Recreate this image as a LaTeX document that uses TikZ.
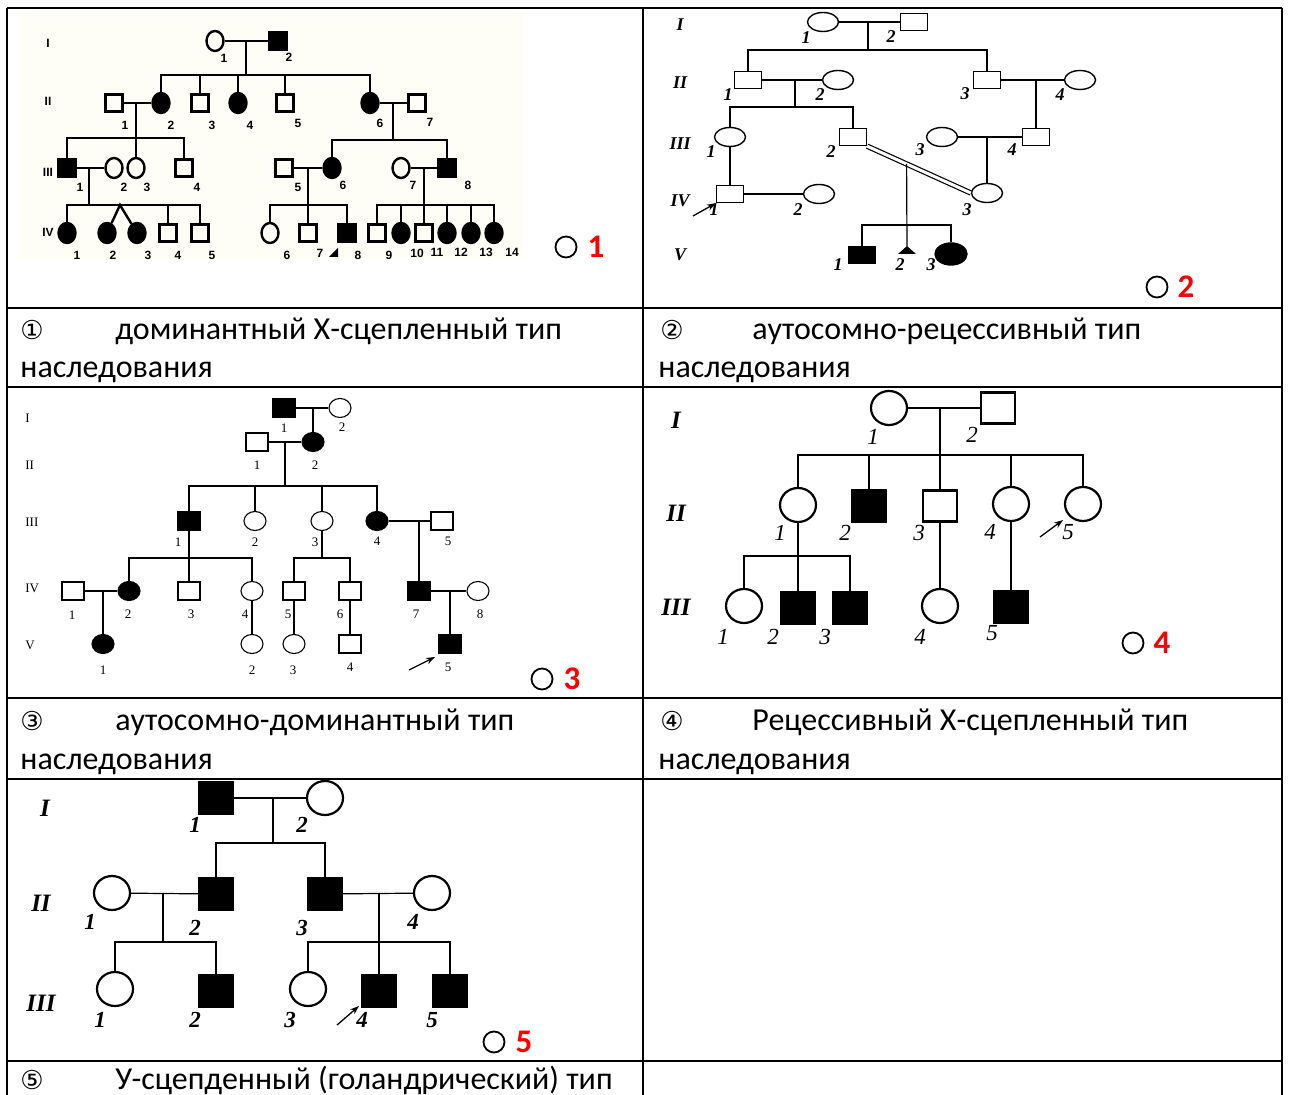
\documentclass[tikz,border=0pt]{standalone}
\usepackage{fontspec}
\setmainfont{Carlito}
\newfontfamily\symb{DejaVu Sans}
\newfontfamily\pedserif{Liberation Serif}
\newfontfamily\pedsans{Liberation Sans}
\usepackage{tikz}
\usetikzlibrary{
    arrows.meta,
    shapes.geometric,
    calc
}
\usepackage{xcolor}
\definecolor{cream}{RGB}{255,254,246}
\definecolor{tagred}{RGB}{255,0,0}

\begin{document}
\begin{tikzpicture}[
    x=0.5pt, y=-0.5pt,
    grid/.style={line width=1.1pt},
    txt/.style={inner sep=0pt, anchor=base west, font=\fontsize{16}{19}\selectfont},
    cnum/.style={inner sep=0pt, anchor=base west, font=\symb\fontsize{13}{15}\selectfont},
    tag/.style={circle, draw, line width=0.9pt, minimum size=10.5pt, inner sep=0pt},
    tagnum/.style={inner sep=0pt, text=tagred, font=\bfseries\fontsize{16.5}{18}\selectfont},
    aff/.style={fill=black},
    prob/.style={-{Stealth[length=4.5pt, width=3.2pt]}, line width=0.65pt},
    % pedigree 1
    ma/.style={rectangle, draw, line width=1.2pt, minimum size=8.5pt, inner sep=0pt},
    fa/.style={ellipse, draw, line width=1.2pt, minimum width=8.5pt, minimum height=10pt, inner sep=0pt},
    la/.style={inner sep=0pt, font=\pedsans\bfseries\fontsize{6}{7}\selectfont},
    % pedigree 2
    mb/.style={rectangle, draw, line width=0.7pt, minimum width=13.5pt, minimum height=8.5pt, inner sep=0pt},
    fb/.style={ellipse, draw, line width=0.7pt, minimum width=15.5pt, minimum height=9.5pt, inner sep=0pt},
    lb/.style={inner sep=0pt, font=\pedserif\bfseries\itshape\fontsize{9}{10}\selectfont},
    % pedigree 3
    mc/.style={rectangle, draw, line width=0.55pt, minimum width=11pt, minimum height=9pt, inner sep=0pt},
    fc/.style={ellipse, draw, line width=0.55pt, minimum width=11pt, minimum height=9.5pt, inner sep=0pt},
    lc/.style={inner sep=0pt, font=\pedserif\fontsize{6.5}{7}\selectfont},
    % pedigrees 4 and 5
    md/.style={rectangle, draw, line width=1.1pt, minimum width=17pt, minimum height=15.5pt, inner sep=0pt},
    fd/.style={ellipse, draw, line width=1.1pt, minimum width=18pt, minimum height=17pt, inner sep=0pt},
    ld/.style={inner sep=0pt, font=\pedserif\itshape\fontsize{11.5}{12}\selectfont},
    le/.style={inner sep=0pt, font=\pedserif\bfseries\itshape\fontsize{11.5}{12}\selectfont},
    gd/.style={inner sep=0pt, font=\pedserif\bfseries\itshape\fontsize{12.5}{13}\selectfont}
]
\useasboundingbox (0,0) rectangle (1289,1095);

% Table grid
\foreach \x in {7,643,1282} \draw[grid] (\x,8) -- (\x,1095);
\foreach \y in {8,308,387,698,779,1061} \draw[grid] (7,\y) -- (1282,\y);

% Pedigree 1
\fill[cream] (20,13) rectangle (523,258);
\node[la] (A-gI)   at (48,43)  {I};
\node[la] (A-gII)  at (48,101) {II};
\node[la] (A-gIII) at (48,172) {III};
\node[la] (A-gIV)  at (48,232) {IV};

\node[fa] (A-I1) at (215,41) {};
\node[ma, aff] (A-I2) at (278,41) {};

\node[ma] (A-II1) at (114,103) {};
\node[fa, aff] (A-II2) at (161,103) {};
\node[ma] (A-II3) at (200,103) {};
\node[fa, aff] (A-II4) at (238,103) {};
\node[ma] (A-II5) at (285,103) {};
\node[fa, aff] (A-II6) at (370,103) {};
\node[ma] (A-II7) at (417,103) {};

\node[ma, aff] (A-III1) at (67,168) {};
\node[fa] (A-III2) at (114,168) {};
\node[fa] (A-III3) at (136,168) {};
\node[ma] (A-III4) at (184,168) {};
\node[ma] (A-III5) at (284,168) {};
\node[fa, aff] (A-III6) at (332,168) {};
\node[fa] (A-III7) at (401,168) {};
\node[ma, aff] (A-III8) at (447,168) {};

\node[fa, aff] (A-IV1) at (67,233) {};
\node[fa, aff] (A-IV2) at (107,233) {};
\node[fa, aff] (A-IV3) at (137,233) {};
\node[ma] (A-IV4) at (168,233) {};
\node[ma] (A-IV5) at (200,233) {};
\node[fa] (A-IV6) at (270,233) {};
\node[ma] (A-IV7) at (308,233) {};
\node[ma, aff] (A-IV8) at (347,233) {};
\node[ma] (A-IV9) at (377,233) {};
\node[fa, aff] (A-IV10) at (401,233) {};
\node[ma] (A-IV11) at (424,233) {};
\node[fa, aff] (A-IV12) at (447,233) {};
\node[fa, aff] (A-IV13) at (471,233) {};
\node[fa, aff] (A-IV14) at (494,233) {};

\foreach \g/\n/\x/\y in {I/1/224/58, I/2/289/57, II/1/125/125, II/2/171/125,
    II/3/212/125, II/4/250/125, II/5/298/123, II/6/380/123, II/7/430/122,
    III/1/80/187, III/2/124/187, III/3/147/187, III/4/197/187, III/5/298/187,
    III/6/343/185, III/7/413/185, III/8/468/185, IV/1/77/255, IV/2/113/255,
    IV/3/148/255, IV/4/178/255, IV/5/212/255, IV/6/287/255, IV/7/320/253,
    IV/8/358/255, IV/9/389/255, IV/10/417/253, IV/11/437/252, IV/12/461/252,
    IV/13/486/252, IV/14/512/252}
    \node[la] (A-n\g-\n) at (\x,\y) {\n};

\begin{scope}[line width=1.2pt]
\coordinate (A-c1) at (246,41);
\coordinate (A-s1) at (246,75);
\coordinate (A-c2) at (136,103);
\coordinate (A-s2) at (136,138);
\coordinate (A-c3) at (89,168);
\coordinate (A-s3) at (89,205);
\coordinate (A-t1) at (120,205);
\coordinate (A-c4) at (393,103);
\coordinate (A-s4) at (393,140);
\coordinate (A-c5) at (308,168);
\coordinate (A-s5) at (308,205);
\coordinate (A-c6) at (424,168);
\coordinate (A-s6) at (424,205);

\draw (A-I1) -- (A-I2);
\draw (A-c1) -- (A-s1);
\draw (A-II2) |- (A-s1) -| (A-II6);
\foreach \k in {II3,II4,II5} \draw (A-\k) -- (A-\k |- A-s1);

\draw (A-II1) -- (A-II2);
\draw (A-c2) -- (A-III3);
\draw (A-III1) |- (A-s2) -| (A-III4);

\draw (A-III1) -- (A-III2);
\draw (A-c3) -- (A-s3);
\draw (A-IV1) |- (A-s3) -| (A-IV5);
\draw (A-IV4) -- (A-IV4 |- A-s3);
\draw (A-IV2) -- (A-t1) -- (A-IV3);

\draw (A-II6) -- (A-II7);
\draw (A-c4) -- (A-s4);
\draw (A-III6) |- (A-s4) -| (A-III8);

\draw (A-III5) -- (A-III6);
\draw (A-c5) -- (A-IV7);
\draw (A-IV6) |- (A-s5) -| (A-IV8);

\draw (A-III7) -- (A-III8);
\draw (A-c6) -- (A-IV11);
\draw (A-IV9) |- (A-s6) -| (A-IV14);
\foreach \k in {IV10,IV12,IV13} \draw (A-\k) -- (A-\k |- A-s6);
\end{scope}
\fill (329,257) -- (338,248) -- (338,257) -- cycle;

\node[tag] (tag1) at (566,247) {};
\node[tagnum] (tagn1) at (596,247) {1};

% Pedigree 2
\node[lb] (B-gI)   at (680,25)  {I};
\node[lb] (B-gII)  at (680,83)  {II};
\node[lb] (B-gIII) at (680,144) {III};
\node[lb] (B-gIV)  at (680,201) {IV};
\node[lb] (B-gV)   at (680,255) {V};

\node[fb] (B-I1) at (823,22) {};
\node[mb] (B-I2) at (914,22) {};
\node[mb] (B-II1) at (748,80) {};
\node[fb] (B-II2) at (838,80) {};
\node[mb] (B-II3) at (987,80) {};
\node[fb] (B-II4) at (1080,80) {};
\node[fb] (B-III1) at (730,137) {};
\node[mb] (B-III2) at (853,137) {};
\node[fb] (B-III3) at (942,137) {};
\node[mb] (B-III4) at (1036,137) {};
\node[mb] (B-IV1) at (730,194) {};
\node[fb] (B-IV2) at (819,194) {};
\node[fb] (B-IV3) at (987,193) {};
\node[mb, aff] (B-V1) at (862,255) {};
\coordinate (B-V2) at (907,246);
\node[fb, aff, minimum width=16pt, minimum height=11pt] (B-V3) at (951,254) {};

\foreach \g/\n/\x/\y in {I/1/806/38, I/2/891/37, II/1/728/95, II/2/820/95,
    II/3/965/94, II/4/1060/95, III/1/711/152, III/2/831/152, III/3/920/150,
    III/4/1012/150, IV/1/714/210, IV/2/798/210, IV/3/967/210,
    V/1/838/265, V/2/900/265, V/3/931/265}
    \node[lb] (B-n\g-\n) at (\x,\y) {\n};

\begin{scope}[line width=0.6pt]
\coordinate (B-c1) at (868,22);
\coordinate (B-s1) at (868,50);
\coordinate (B-c2) at (795,80);
\coordinate (B-s2) at (795,107);
\coordinate (B-c3) at (1036,80);
\coordinate (B-c4) at (987,137);
\coordinate (B-s3) at (907,225);

\draw (B-I1) -- (B-I2);
\draw (B-c1) -- (B-s1);
\draw (B-II1) |- (B-s1) -| (B-II3);
\draw (B-II1) -- (B-II2);
\draw (B-c2) -- (B-s2);
\draw (B-III1) |- (B-s2) -| (B-III2);
\draw (B-II3) -- (B-II4);
\draw (B-c3) -- (B-III4);
\draw (B-III3) -- (B-III4);
\draw (B-c4) -- (B-IV3);
\draw (B-III1) -- (B-IV1);
\draw (B-IV1) -- (B-IV2);
\draw[double, double distance=1.5pt] (B-III2.south east) -- (B-IV3.west);
\coordinate (B-m) at ($(B-III2.south east)!0.38!(B-IV3.west)$);
\draw (B-m) -- (B-V2);
\draw (B-V1) |- (B-s3) -| (B-V3);
\end{scope}
\fill (B-V2) -- ++(9,8) -- ++(-18,0) -- cycle;
\coordinate (B-pa) at (693,216);
\draw[prob] (B-pa) -- (B-IV1.south west);

\node[tag] (tag2) at (1157,287) {};
\node[tagnum] (tagn2) at (1186,287) {2};

% Pedigree 3
\foreach \g/\y in {I/418, II/465, III/522, IV/588, V/645}
    \node[lc, anchor=west] (C-g\g) at (25,\y) {\g};

\node[mc, aff] (C-I1) at (284,408) {};
\node[fc] (C-I2) at (340,408) {};
\node[mc] (C-II1) at (257,442) {};
\node[fc, aff] (C-II2) at (313,442) {};
\node[mc, aff] (C-III1) at (189,521) {};
\node[fc] (C-III2) at (255,521) {};
\node[fc] (C-III3) at (322,521) {};
\node[fc, aff] (C-III4) at (377,521) {};
\node[mc] (C-III5) at (442,521) {};
\node[mc] (C-IV1) at (73,591) {};
\node[fc, aff] (C-IV2) at (129,591) {};
\node[mc] (C-IV3) at (189,591) {};
\node[fc] (C-IV4) at (252,591) {};
\node[mc] (C-IV5) at (294,591) {};
\node[mc] (C-IV6) at (350,591) {};
\node[mc, aff] (C-IV7) at (419,591) {};
\node[fc] (C-IV8) at (478,591) {};
\node[fc, aff] (C-V1) at (103,644) {};
\node[fc] (C-V2) at (252,644) {};
\node[fc] (C-V3) at (294,644) {};
\node[mc] (C-V4) at (350,644) {};
\node[mc, aff] (C-V5) at (450,644) {};

\foreach \g/\n/\x/\y in {I/1/284/428, I/2/342/427, II/1/257/465, II/2/315/465,
    III/1/178/542, III/2/255/542, III/3/315/542, III/4/377/541, III/5/448/541,
    IV/1/72/615, IV/2/128/614, IV/3/191/614, IV/4/245/614, IV/5/288/614,
    IV/6/340/614, IV/7/416/614, IV/8/480/614, V/1/103/670, V/2/252/670,
    V/3/293/670, V/4/350/667, V/5/448/667}
    \node[lc] (C-n\g-\n) at (\x,\y) {\n};

\begin{scope}[line width=0.55pt]
\coordinate (C-c1) at (313,408);
\coordinate (C-c2) at (285,442);
\coordinate (C-s2) at (285,486);
\coordinate (C-c3) at (419,521);
\coordinate (C-s3) at (189,558);
\coordinate (C-s4) at (322,558);
\coordinate (C-c4) at (103,591);
\coordinate (C-c5) at (450,591);

\draw (C-I1) -- (C-I2);
\draw (C-c1) -- (C-II2);
\draw (C-II1) -- (C-II2);
\draw (C-c2) -- (C-s2);
\draw (C-III1) |- (C-s2) -| (C-III4);
\foreach \k in {III2,III3} \draw (C-\k) -- (C-\k |- C-s2);
\draw (C-III4) -- (C-III5);
\draw (C-c3) -- (C-IV7);
\draw (C-III1) -- (C-IV3);
\draw (C-IV2) |- (C-s3) -| (C-IV4);
\draw (C-III3) -- (C-s4);
\draw (C-IV5) |- (C-s4) -| (C-IV6);
\draw (C-IV1) -- (C-IV2);
\draw (C-c4) -- (C-V1);
\draw (C-IV4) -- (C-V2);
\draw (C-IV5) -- (C-V3);
\draw (C-IV6) -- (C-V4);
\draw (C-IV7) -- (C-IV8);
\draw (C-c5) -- (C-V5);
\end{scope}
\coordinate (C-pa) at (409,670);
\coordinate (C-pb) at (435,657);
\draw[prob] (C-pa) -- (C-pb);

\node[tag] (tag3) at (542,679) {};
\node[tagnum] (tagn3) at (572,679) {3};

% Pedigree 4
\node[gd] (D-gI)   at (676,420) {I};
\node[gd] (D-gII)  at (676,513) {II};
\node[gd] (D-gIII) at (676,607) {III};

\node[fd] (D-I1) at (889,408) {};
\node[md] (D-I2) at (998,408) {};
\node[fd] (D-II1) at (798,505) {};
\node[md, aff] (D-II2) at (869,506) {};
\node[md] (D-II3) at (940,506) {};
\node[fd] (D-II4) at (1011,504) {};
\node[fd] (D-II5) at (1083,504) {};
\node[fd] (D-III1) at (744,606) {};
\node[md, aff] (D-III2) at (798,608) {};
\node[md, aff] (D-III3) at (850,608) {};
\node[fd] (D-III4) at (940,606) {};
\node[md, aff] (D-III5) at (1011,607) {};

\foreach \g/\n/\x/\y in {I/1/873/437, I/2/972/435, II/1/780/533, II/2/845/533,
    II/3/919/533, II/4/990/532, II/5/1068/532, III/1/723/637, III/2/773/637,
    III/3/825/637, III/4/920/637, III/5/992/633}
    \node[ld] (D-n\g-\n) at (\x,\y) {\n};

\begin{scope}[line width=0.6pt]
\coordinate (D-c1) at (940,408);
\coordinate (D-s1) at (940,455);
\coordinate (D-s2) at (798,556);

\draw (D-I1) -- (D-I2);
\draw (D-c1) -- (D-II3);
\draw (D-II1) |- (D-s1) -| (D-II5);
\foreach \k in {II2,II4} \draw (D-\k) -- (D-\k |- D-s1);
\draw (D-II1) -- (D-III2);
\draw (D-III1) |- (D-s2) -| (D-III3);
\draw (D-II3) -- (D-III4);
\draw (D-II4) -- (D-III5);
\end{scope}
\coordinate (D-pa) at (1040,537);
\coordinate (D-pb) at (1063,520);
\draw[prob] (D-pa) -- (D-pb);

\node[tag] (tag4) at (1133,643) {};
\node[tagnum] (tagn4) at (1162,643) {4};

% Pedigree 5
\node[gd] (E-gI)   at (45,808)  {I};
\node[gd] (E-gII)  at (41,903)  {II};
\node[gd] (E-gIII) at (41,1003) {III};

\node[md, aff] (E-I1) at (216,798) {};
\node[fd] (E-I2) at (325,798) {};
\node[fd] (E-II1) at (112,893) {};
\node[md, aff] (E-II2) at (216,894) {};
\node[md, aff] (E-II3) at (325,894) {};
\node[fd] (E-II4) at (432,893) {};
\node[fd] (E-III1) at (115,989) {};
\node[md, aff] (E-III2) at (216,991) {};
\node[fd] (E-III3) at (308,989) {};
\node[md, aff] (E-III4) at (379,991) {};
\node[md, aff] (E-III5) at (450,991) {};

\foreach \g/\n/\x/\y in {I/1/195/825, I/2/302/825, II/1/90/922, II/2/195/928,
    II/3/302/928, II/4/413/922, III/1/100/1020, III/2/195/1020,
    III/3/290/1020, III/4/362/1020, III/5/432/1020}
    \node[le] (E-n\g-\n) at (\x,\y) {\n};

\begin{scope}[line width=0.6pt]
\coordinate (E-c1) at (273,798);
\coordinate (E-s1) at (273,843);
\coordinate (E-c2) at (163,893);
\coordinate (E-s2) at (163,942);
\coordinate (E-c3) at (379,893);
\coordinate (E-s3) at (379,942);

\draw (E-I1) -- (E-I2);
\draw (E-c1) -- (E-s1);
\draw (E-II2) |- (E-s1) -| (E-II3);
\draw (E-II1) -- (E-II2);
\draw (E-c2) -- (E-s2);
\draw (E-III1) |- (E-s2) -| (E-III2);
\draw (E-II3) -- (E-II4);
\draw (E-c3) -- (E-III4);
\draw (E-III3) |- (E-s3) -| (E-III5);
\end{scope}
\coordinate (E-pa) at (337,1025);
\coordinate (E-pb) at (359,1006);
\draw[prob] (E-pa) -- (E-pb);

\node[tag] (tag5) at (494,1042) {};
\node[tagnum] (tagn5) at (524,1042) {5};

% Captions
\node[cnum] (cap1n) at (20,340) {①};
\node[txt] (cap1a) at (115,340) {доминантный Х-сцепленный тип};
\node[txt] (cap1b) at (20,378) {наследования};
\node[cnum] (cap2n) at (660,340) {②};
\node[txt] (cap2a) at (752,340) {аутосомно-рецессивный тип};
\node[txt] (cap2b) at (658,378) {наследования};
\node[cnum] (cap3n) at (20,730) {③};
\node[txt] (cap3a) at (115,730) {аутосомно-доминантный тип};
\node[txt] (cap3b) at (20,769) {наследования};
\node[cnum] (cap4n) at (660,730) {④};
\node[txt] (cap4a) at (752,730) {Рецессивный Х-сцепленный тип};
\node[txt] (cap4b) at (658,769) {наследования};
\node[cnum] (cap5n) at (20,1089) {⑤};
\node[txt] (cap5a) at (115,1089) {У-сцепденный (голандрический) тип};

\end{tikzpicture}
\end{document}
